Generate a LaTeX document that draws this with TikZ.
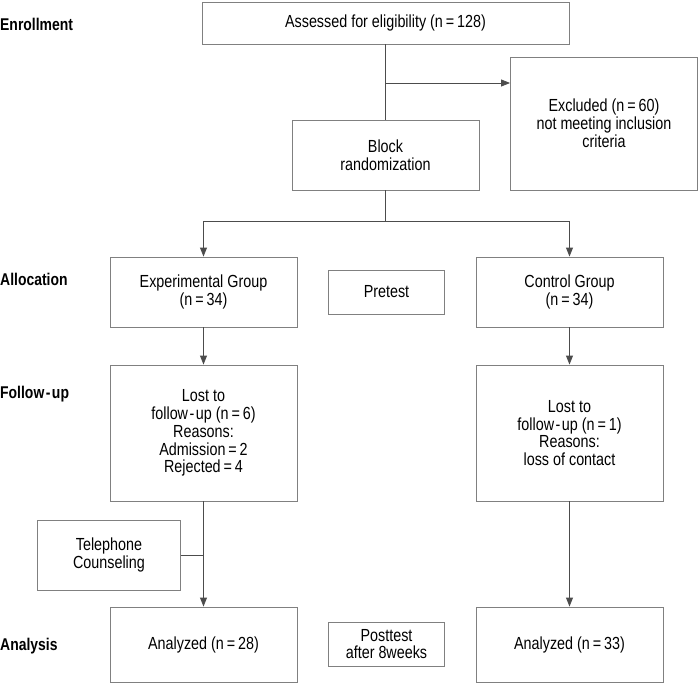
\documentclass[tikz,border=0pt]{standalone}
\usepackage{fontspec}
\setmainfont{Liberation Sans}[FakeStretch=0.82]
\usetikzlibrary{arrows.meta}
\newcommand{\hy}{\kern1.5pt-\kern1.5pt}
\begin{document}
\begin{tikzpicture}[x=1pt,y=-1pt,
  box/.style={draw=black!50, line width=0.9pt, align=center, inner sep=0pt,
    font=\fontsize{17.5}{17.8}\selectfont},
  lbl/.style={anchor=west, inner sep=0pt, font=\fontsize{17}{17}\selectfont\bfseries},
  conn/.style={draw=black!70, line width=0.9pt},
  arr/.style={conn, -{Triangle[length=9pt,width=7pt]}}]
\useasboundingbox (0,0) rectangle (699,683);
% stage labels
\node[lbl] (l1) at (0,24) {Enrollment};
\node[lbl] (l2) at (0,279) {Allocation};
\node[lbl] (l3) at (0,394) {Follow\hy up};
\node[lbl] (l4) at (0,646) {Analysis};
% boxes
\node[box, minimum width=367, minimum height=42] (assess) at (385.5,23) {Assessed for eligibility (n\,=\,128)};
\node[box, minimum width=187, minimum height=70] (block) at (385.5,155) {Block\\randomization};
\node[box, minimum width=187, minimum height=133] (excl) at (604,123.5) {Excluded (n\,=\,60)\\not meeting inclusion\\criteria};
\node[box, minimum width=187, minimum height=70] (exp) at (203.5,292) {Experimental Group\\(n\,=\,34)};
\node[box, minimum width=116, minimum height=44] (pre) at (386.5,292) {Pretest};
\node[box, minimum width=187, minimum height=70] (ctrl) at (569.5,292) {Control Group\\(n\,=\,34)};
\node[box, minimum width=187, minimum height=136] (lost1) at (203.5,433) {Lost to\\follow\hy up (n\,=\,6)\\Reasons:\\Admission\,=\,2\\Rejected\,=\,4};
\node[box, minimum width=187, minimum height=136] (lost2) at (569.5,433) {Lost to\\follow\hy up (n\,=\,1)\\Reasons:\\loss of contact};
\node[box, minimum width=143, minimum height=70] (tel) at (109,555) {Telephone\\Counseling};
\node[box, minimum width=187, minimum height=75] (an1) at (203.5,644.5) {Analyzed (n\,=\,28)};
\node[box, minimum width=116, minimum height=44] (post) at (386.5,644) {Posttest\\after 8weeks};
\node[box, minimum width=187, minimum height=75] (an2) at (569.5,644.5) {Analyzed (n\,=\,33)};
% connectors
\coordinate (br) at (385.5,83);
\coordinate (split) at (385.5,221);
\draw[conn] (assess.south) -- (block.north);
\draw[arr] (br) -- (br -| excl.west);
\draw[conn] (block.south) -- (split);
\draw[arr] (split) -| (exp.north);
\draw[arr] (split) -| (ctrl.north);
\draw[arr] (exp.south) -- (lost1.north);
\draw[arr] (ctrl.south) -- (lost2.north);
\draw[arr] (lost1.south) -- (an1.north);
\draw[arr] (lost2.south) -- (an2.north);
\draw[conn] (tel.east) -- (tel.east -| lost1.south);
\end{tikzpicture}
\end{document}
